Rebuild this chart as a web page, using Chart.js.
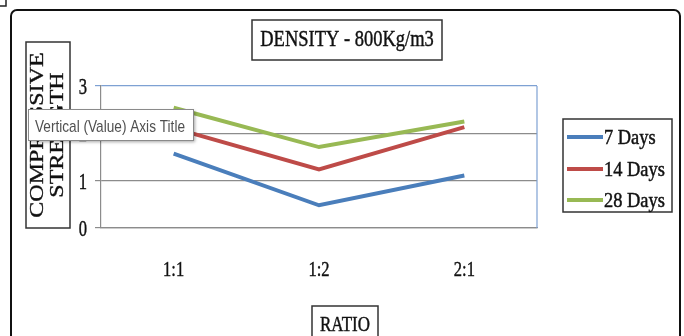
<!DOCTYPE html>
<html>
<head>
<meta charset="utf-8">
<script src="https://cdn.jsdelivr.net/npm/chart.js@4/dist/chart.umd.min.js"></script>
<style>
  html, body { margin: 0; padding: 0; background: #fff; }
  #wrap { width: 684px; height: 336px; }
</style>
</head>
<body>
<div id="wrap"><canvas id="c" width="684" height="336"></canvas></div>
<script>
// ---- data ----
const categories = ["1:1", "1:2", "2:1"];
const days7  = [1.57, 0.48, 1.11];
const days14 = [2.11, 1.24, 2.13];
const days28 = [2.54, 1.71, 2.25];
const seriesNames = ["7 Days", "14 Days", "28 Days"];
const yTickValues = [0, 1, 2, 3];
const chartTitle = "DENSITY - 800Kg/m3";
const yTitleLines = ["COMPRESSIVE", "STRENGTH"];
const xTitle = "RATIO";
const tooltipText = "Vertical (Value) Axis Title";

const colors = ["#4a7ebb", "#be4b48", "#98b954"];
const SERIF = '"Liberation Serif", "Times New Roman", serif';
const SANS = '"Liberation Sans", Arial, sans-serif';

function sText(ctx, str, x, y, font, sx, align, color, bold) {
  ctx.save();
  ctx.font = font;
  ctx.fillStyle = color || "#000";
  ctx.textAlign = align || "left";
  ctx.textBaseline = "alphabetic";
  ctx.translate(x, y);
  ctx.scale(sx, 1);
  ctx.fillText(str, 0, 0);
  if (bold !== false) {
    ctx.strokeStyle = color || "#000";
    ctx.lineWidth = 0.45;
    ctx.strokeText(str, 0, 0);
  }
  ctx.restore();
}

const decor = {
  id: "decor",
  beforeDraw(chart) {
    const ctx = chart.ctx;
    ctx.save();
    ctx.fillStyle = "#fff";
    ctx.fillRect(0, 0, chart.width, chart.height);
    ctx.restore();
  },
  beforeDatasetsDraw(chart) {
    const ctx = chart.ctx, a = chart.chartArea;
    ctx.save();
    ctx.strokeStyle = "#7ea1d3";
    ctx.lineWidth = 1.2;
    ctx.beginPath();
    ctx.moveTo(a.right, a.top);
    ctx.lineTo(a.right, a.bottom);
    ctx.stroke();
    ctx.restore();
  },
  afterDraw(chart) {
    const ctx = chart.ctx;
    const ys = chart.scales.y, xs = chart.scales.x;
    ctx.save();
    // small corner frame
    ctx.strokeStyle = "#222";
    ctx.lineWidth = 1.5;
    ctx.beginPath();
    ctx.moveTo(0, 6); ctx.lineTo(6, 6); ctx.lineTo(6, 0);
    ctx.stroke();
    // outer border
    ctx.lineWidth = 2;
    ctx.strokeStyle = "#111";
    ctx.beginPath();
    ctx.roundRect(11, 10, 669, 340, 6);
    ctx.stroke();

    // title box
    ctx.fillStyle = "#fff";
    ctx.fillRect(252, 20, 190, 40);
    ctx.lineWidth = 1.5;
    ctx.strokeStyle = "#333";
    ctx.strokeRect(252, 20, 190, 40);
    sText(ctx, chartTitle, 347, 46, "24px " + SERIF, 0.77, "center", "#111");

    // y title box
    ctx.fillStyle = "#fff";
    ctx.fillRect(26, 42, 44, 186);
    ctx.lineWidth = 1.5;
    ctx.strokeStyle = "#333";
    ctx.strokeRect(26, 42, 44, 186);
    const yCenters = [43, 63];
    yTitleLines.forEach((t, i) => {
      ctx.save();
      ctx.font = "24px " + SERIF;
      ctx.fillStyle = "#111";
      ctx.strokeStyle = "#111";
      ctx.lineWidth = 0.45;
      ctx.textAlign = "center";
      ctx.textBaseline = "alphabetic";
      ctx.translate(yCenters[i], 135);
      ctx.scale(0.75, 1);
      ctx.rotate(-Math.PI / 2);
      ctx.fillText(t, 0, 0);
      ctx.strokeText(t, 0, 0);
      ctx.restore();
    });

    // y tick labels
    yTickValues.forEach(v => {
      sText(ctx, String(v), 87, ys.getPixelForValue(v) + 8, "23px " + SERIF, 0.72, "right", "#111");
    });
    // x tick labels
    categories.forEach((c, i) => {
      sText(ctx, c, xs.getPixelForValue(i), 276, "22px " + SERIF, 0.75, "center", "#111");
    });

    // legend
    ctx.fillStyle = "#fff";
    ctx.fillRect(563, 119, 109, 93);
    ctx.lineWidth = 1.5;
    ctx.strokeStyle = "#333";
    ctx.strokeRect(563, 119, 109, 93);
    const ly = [137, 169, 200];
    chart.data.datasets.forEach((ds, i) => {
      ctx.strokeStyle = ds.borderColor;
      ctx.lineWidth = 4;
      ctx.beginPath();
      ctx.moveTo(567, ly[i]);
      ctx.lineTo(603, ly[i]);
      ctx.stroke();
      sText(ctx, ds.label, 604, ly[i] + 7, "20px " + SERIF, 0.92, "left", "#111");
    });

    // x title box
    ctx.fillStyle = "#fff";
    ctx.fillRect(312, 306, 66, 40);
    ctx.lineWidth = 1.5;
    ctx.strokeStyle = "#333";
    ctx.strokeRect(312, 306, 66, 40);
    sText(ctx, xTitle, 345, 331, "22px " + SERIF, 0.77, "center", "#111");

    // tooltip
    ctx.save();
    ctx.shadowColor = "rgba(0,0,0,0.35)";
    ctx.shadowOffsetX = 2;
    ctx.shadowOffsetY = 2;
    ctx.shadowBlur = 3;
    ctx.fillStyle = "#fff";
    ctx.fillRect(28, 109, 165, 31);
    ctx.restore();
    ctx.lineWidth = 1;
    ctx.strokeStyle = "#8a8a8a";
    ctx.strokeRect(28.5, 109.5, 165, 31);
    ctx.font = "17px " + SANS;
    const w = ctx.measureText(tooltipText).width;
    sText(ctx, tooltipText, 35, 132, "17px " + SANS, 150 / w, "left", "#505050", false);
    ctx.restore();
  }
};

new Chart(document.getElementById("c"), {
  type: "line",
  data: {
    labels: categories,
    datasets: [
      { label: seriesNames[0], data: days7,  borderColor: colors[0] },
      { label: seriesNames[1], data: days14, borderColor: colors[1] },
      { label: seriesNames[2], data: days28, borderColor: colors[2] }
    ].map(d => Object.assign(d, { borderWidth: 4, pointRadius: 0, tension: 0, fill: false, borderCapStyle: "butt", borderJoinStyle: "miter" }))
  },
  options: {
    responsive: false,
    animation: false,
    layout: { padding: { left: 0, top: 86, right: 147, bottom: 0 } },
    plugins: { legend: { display: false }, title: { display: false }, tooltip: { enabled: false } },
    scales: {
      x: {
        type: "category",
        offset: true,
        grid: { display: false, drawTicks: false },
        border: { display: true, color: "#8c8c8c", width: 1.2 },
        ticks: { display: false },
        afterFit(s) { s.height = 108; }
      },
      y: {
        min: 0, max: 3,
        ticks: { display: false, stepSize: 1 },
        grid: {
          color: ctx => (ctx.tick && ctx.tick.value === 3 ? "#7ea1d3" : "#8c8c8c"),
          lineWidth: 1.2,
          drawTicks: true,
          tickLength: 6
        },
        border: { display: true, color: "#8c8c8c", width: 1.2 },
        afterFit(s) { s.width = 101; }
      }
    }
  },
  plugins: [decor]
});
</script>
</body>
</html>
